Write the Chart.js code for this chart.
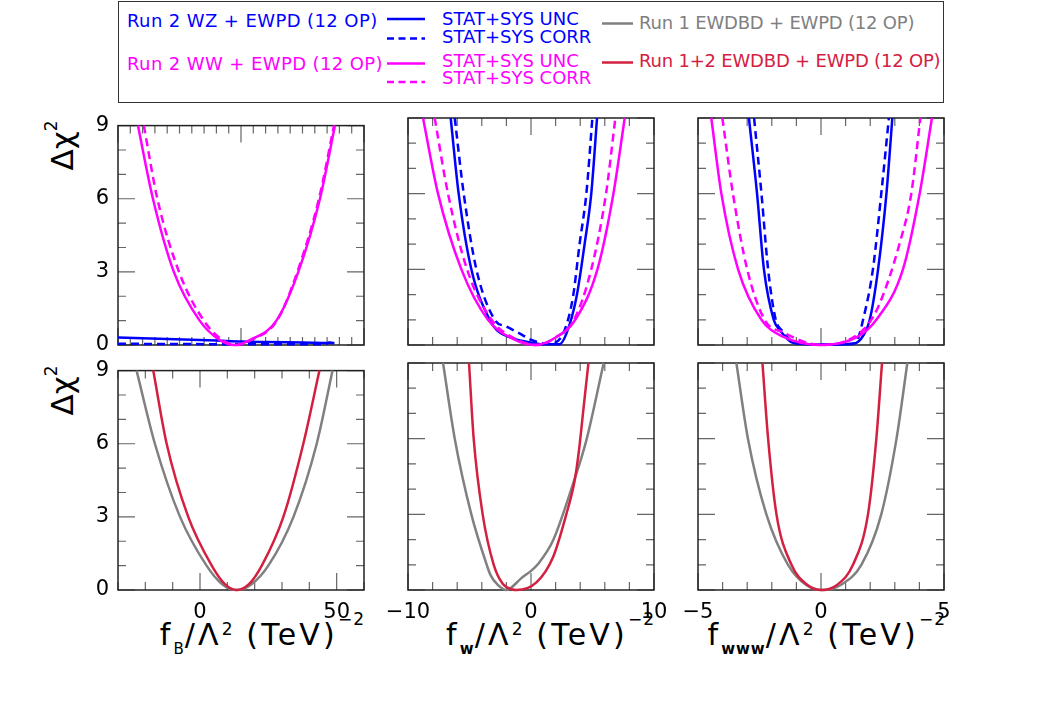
<!DOCTYPE html>
<html>
<head>
<meta charset="utf-8">
<script src="https://cdn.jsdelivr.net/npm/chart.js@4.4.1/dist/chart.umd.min.js"></script>
<style>
body { margin: 0; background: #fff; }
#page { position: relative; width: 1063px; height: 709px; overflow: hidden; font-family: "DejaVu Sans", sans-serif; }
.panel { position: absolute; }
.legbox { position: absolute; left: 118px; top: 1px; width: 824px; height: 100px; border: 1.5px solid #333; }
.leg { position: absolute; font-size: 18px; line-height: 18px; white-space: nowrap; }
.xt { position: absolute; font-size: 30px; line-height: 30px; letter-spacing: 3.2px; white-space: nowrap; color: #000; }
.yt { position: absolute; font-size: 31px; line-height: 31px; white-space: nowrap; transform: translate(-50%, -50%) rotate(-90deg); }
.up, .dn { position: relative; font-size: 17px; letter-spacing: 1px; }
</style>
</head>
<body>
<div id="page">
  <div class="legbox"></div>
  <svg style="position:absolute;left:0;top:0" width="1063" height="110">
    <line x1="387" y1="19" x2="425" y2="19" stroke="#0000ff" stroke-width="2.5"/>
    <line x1="387" y1="38.5" x2="425" y2="38.5" stroke="#0000ff" stroke-width="2.5" stroke-dasharray="7 4.5"/>
    <line x1="387" y1="63.5" x2="425" y2="63.5" stroke="#ff00ff" stroke-width="2.5"/>
    <line x1="387" y1="82" x2="425" y2="82" stroke="#ff00ff" stroke-width="2.5" stroke-dasharray="7 4.5"/>
    <line x1="602" y1="23.5" x2="633" y2="23.5" stroke="#808080" stroke-width="2.5"/>
    <line x1="602" y1="62.5" x2="633" y2="62.5" stroke="#d42040" stroke-width="2.5"/>
  </svg>
  <div class="leg" style="left:127px;top:12px;color:#0000ff;letter-spacing:0.4px">Run 2 WZ + EWPD (12 OP)</div>
  <div class="leg" style="left:442px;top:10px;color:#0000ff">STAT+SYS UNC</div>
  <div class="leg" style="left:442px;top:28px;color:#0000ff">STAT+SYS CORR</div>
  <div class="leg" style="left:127px;top:55px;color:#ff00ff;letter-spacing:0.4px">Run 2 WW + EWPD (12 OP)</div>
  <div class="leg" style="left:442px;top:52px;color:#ff00ff">STAT+SYS UNC</div>
  <div class="leg" style="left:442px;top:69px;color:#ff00ff">STAT+SYS CORR</div>
  <div class="leg" style="left:639px;top:14px;color:#808080;letter-spacing:-0.2px">Run 1 EWDBD + EWPD (12 OP)</div>
  <div class="leg" style="left:639px;top:52px;color:#d42040;letter-spacing:-0.2px">Run 1+2 EWDBD + EWPD (12 OP)</div>

  <div class="yt" style="left:65px;top:145px">&Delta;&chi;<span class="up" style="top:-16px">2</span></div>
  <div class="yt" style="left:65px;top:390px">&Delta;&chi;<span class="up" style="top:-16px">2</span></div>

  <div class="xt" style="right:698px;top:620px">f<span class="dn" style="top:9px;font-size:15px">B</span>/&Lambda;<span class="up" style="top:-10px">2</span> (TeV)<span class="up" style="top:-20px">&minus;2</span></div>
  <div class="xt" style="right:408px;top:620px">f<span class="dn" style="top:9px;font-size:15px;font-weight:bold">w</span>/&Lambda;<span class="up" style="top:-10px">2</span> (TeV)<span class="up" style="top:-20px">&minus;2</span></div>
  <div class="xt" style="right:117px;top:620px">f<span class="dn" style="top:9px;font-size:15px;font-weight:bold">www</span>/&Lambda;<span class="up" style="top:-10px">2</span> (TeV)<span class="up" style="top:-20px">&minus;2</span></div>
</div>
<script>
// tick labels
const yLabels = [0, 3, 6, 9];
const fbTopLabels = [];
const fbLabels = [0, 50];
const fwLabels = [-10, 0, 10];
const fwwwLabels = [-5, 0, 5];

// Run 2 curves, [f/Lambda^2, delta chi2]
const fbWwUnc = [[-41.9, 9], [-35.8, 6], [-27.3, 3], [-16.8, 1], [-8.6, 0.2], [-2.5, 0], [3.6, 0.2], [14.4, 1], [23.3, 3], [32.1, 6], [38.2, 9]];
const fbWwCorr = [[-39.5, 9], [-34.0, 6], [-25.2, 3], [-15.1, 1], [-7.5, 0.2], [-1.8, 0], [4.0, 0.2], [14.6, 1], [22.9, 3], [31.7, 6], [37.8, 9]];
const fbWzUnc = [[-50, 0.31], [-30, 0.25], [-10, 0.18], [0, 0.14], [10, 0.12], [25, 0.1], [38, 0.08]];
const fbWzCorr = [[-50, 0.05], [-25, 0.04], [0, 0.03], [25, 0.03], [34, 0.04], [36, 0.1], [38, 0.06]];

const fwWwUnc = [[-8.78, 9], [-7.56, 6], [-5.66, 3], [-3.5, 1], [-1.5, 0.25], [0.3, 0], [2.0, 0.3], [3.6, 1], [5.4, 3], [6.7, 6], [7.62, 9]];
const fwWwCorr = [[-7.83, 9], [-6.75, 6], [-5.2, 3], [-3.2, 1], [-1.3, 0.25], [0.5, 0], [2.0, 0.3], [3.5, 1], [4.9, 3], [6.1, 6], [6.86, 9]];
const fwWzUnc = [[-6.53, 9], [-5.88, 6], [-4.85, 3], [-3.36, 1], [-2.8, 0.6], [-1.46, 0.26], [0.03, 0.09], [1.0, 0.03], [2.3, 0.03], [2.88, 0.45], [3.7, 1.9], [4.37, 4.04], [4.9, 6], [5.37, 9]];
const fwWzCorr = [[-6.2, 9], [-5.47, 6], [-4.44, 3], [-2.95, 1], [-2.0, 0.73], [-0.9, 0.45], [0.03, 0.2], [1.3, 0.05], [1.9, 0.08], [2.74, 0.6], [3.41, 1.9], [3.96, 4.04], [4.5, 6], [4.99, 9]];

const fwwwWwUnc = [[-4.46, 9], [-4.05, 6], [-3.37, 3], [-2.42, 1], [-1.54, 0.33], [0.0, 0], [1.44, 0.3], [2.25, 1], [3.33, 3], [4.01, 6], [4.51, 9]];
const fwwwWwCorr = [[-4.01, 9], [-3.58, 6], [-3.0, 3], [-2.29, 1], [-1.54, 0.5], [0.0, 0], [1.71, 0.6], [2.32, 1.5], [3.2, 4.04], [3.67, 6], [4.04, 9]];
const fwwwWzUnc = [[-2.93, 9], [-2.6, 6], [-2.32, 3], [-1.92, 1], [-1.68, 0.6], [-1.14, 0.09], [0.0, 0.02], [1.17, 0.03], [1.64, 0.26], [1.98, 1], [2.32, 3], [2.66, 6], [2.9, 9]];
const fwwwWzCorr = [[-2.72, 9], [-2.42, 6], [-2.15, 3], [-1.84, 1], [-1.61, 0.6], [-1.0, 0.07], [0.0, 0.02], [1.2, 0.05], [1.44, 0.13], [1.71, 1], [2.11, 3], [2.45, 6], [2.76, 9]];

// Run 1 and Run 1+2 curves
const fbRun1 = [[-23.2, 9], [-16.5, 6], [-7.3, 3], [2.4, 1], [8.0, 0.25], [13.4, 0], [19.0, 0.25], [25.0, 1], [34.2, 3], [42.7, 6], [48.5, 9]];
const fbRun12 = [[-17.1, 9], [-12.2, 6], [-4.3, 3], [4.3, 1], [9.0, 0.25], [13.4, 0], [18.0, 0.25], [22.6, 1], [30.5, 3], [37.8, 6], [43.7, 9]];
const fwRun1 = [[-7.15, 9], [-6.2, 6], [-4.85, 3], [-3.6, 1], [-3.3, 0.6], [-2.7, 0.2], [-2.0, 0], [-1.6, 0.1], [-0.78, 0.47], [0.03, 0.77], [0.57, 1.03], [1.79, 1.96], [3.41, 4.2], [4.5, 5.93], [5.91, 9]];
const fwRun12 = [[-5.04, 9], [-4.66, 6], [-3.93, 3], [-3.03, 1], [-2.3, 0.25], [-1.5, 0.02], [-1.19, 0], [0.44, 0.3], [1.79, 1.3], [2.87, 3.0], [3.55, 4.34], [3.9, 5.53], [4.28, 7.25], [4.67, 9]];
const fwwwRun1 = [[-3.44, 9], [-2.97, 6], [-2.22, 3], [-1.34, 1], [-0.6, 0.2], [0.08, 0], [0.8, 0.2], [1.64, 1], [2.45, 3], [3.07, 6], [3.51, 9]];
const fwwwRun12 = [[-2.38, 9], [-2.15, 6], [-1.81, 3], [-1.2, 1], [-0.55, 0.2], [0.02, 0], [0.65, 0.2], [1.3, 1], [1.91, 3], [2.25, 6], [2.48, 9]];

const BLUE = '#0000ff', MAG = '#ff00ff', GRAY = '#808080', RED = '#d42040';
const FONT = '"DejaVu Sans", sans-serif';
const colLeft = [118, 408, 698];
const rowTop = [118, 363];
const PW = 246, PH = 227;

// frame + inside ticks on all four sides
const panelFrame = {
  id: 'panelFrame',
  beforeDatasetsDraw(chart, args, opts) {
    const {ctx, chartArea: a, scales} = chart;
    const isMajor = (v, m) => Math.abs(v / m - Math.round(v / m)) < 1e-6;
    ctx.save();
    ctx.strokeStyle = '#666';
    ctx.lineWidth = 1.2;
    ctx.beginPath();
    scales.x.ticks.forEach(t => {
      const px = scales.x.getPixelForValue(t.value);
      const len = isMajor(t.value, opts.xMajor) ? 17 : 8;
      ctx.moveTo(px, a.bottom); ctx.lineTo(px, a.bottom - len);
      ctx.moveTo(px, a.top); ctx.lineTo(px, a.top + len);
    });
    scales.y.ticks.forEach(t => {
      const py = scales.y.getPixelForValue(t.value);
      const len = isMajor(t.value, opts.yMajor) ? 17 : 8;
      ctx.moveTo(a.left, py); ctx.lineTo(a.left + len, py);
      ctx.moveTo(a.right, py); ctx.lineTo(a.right - len, py);
    });
    ctx.stroke();
    ctx.strokeStyle = '#222';
    ctx.lineWidth = 1.5;
    ctx.strokeRect(a.left, a.top, a.right - a.left, a.bottom - a.top);
    ctx.restore();
  }
};

const fmt = v => String(v).replace('-', '\u2212');

function curve(points, color, dashed) {
  return {
    data: points.map(p => ({x: p[0], y: p[1]})),
    showLine: true,
    borderColor: color,
    borderWidth: 2.5,
    borderDash: dashed ? [8, 5] : [],
    pointRadius: 0,
    cubicInterpolationMode: 'monotone',
    clip: 4
  };
}

const panels = [
  {col: 0, row: 0, min: -50, max: 50, step: 5, major: 50, labels: fbTopLabels,
   sets: [curve(fbWwUnc, MAG), curve(fbWwCorr, MAG, true), curve(fbWzUnc, BLUE), curve(fbWzCorr, BLUE, true)]},
  {col: 1, row: 0, min: -10, max: 10, step: 2, major: 10, labels: [],
   sets: [curve(fwWwUnc, MAG), curve(fwWwCorr, MAG, true), curve(fwWzUnc, BLUE), curve(fwWzCorr, BLUE, true)]},
  {col: 2, row: 0, min: -5, max: 5, step: 1, major: 5, labels: [],
   sets: [curve(fwwwWwUnc, MAG), curve(fwwwWwCorr, MAG, true), curve(fwwwWzUnc, BLUE), curve(fwwwWzCorr, BLUE, true)]},
  {col: 0, row: 1, min: -30, max: 60, step: 10, major: 50, labels: fbLabels,
   sets: [curve(fbRun12, RED), curve(fbRun1, GRAY)]},
  {col: 1, row: 1, min: -10, max: 10, step: 2, major: 10, labels: fwLabels,
   sets: [curve(fwRun12, RED), curve(fwRun1, GRAY)]},
  {col: 2, row: 1, min: -5, max: 5, step: 1, major: 5, labels: fwwwLabels,
   sets: [curve(fwwwRun12, RED), curve(fwwwRun1, GRAY)]}
];

const page = document.getElementById('page');

panels.forEach(p => {
  const canvas = document.createElement('canvas');
  canvas.className = 'panel';
  canvas.width = 50 + PW + 25;
  canvas.height = 14 + PH + 40;
  canvas.style.left = (colLeft[p.col] - 50) + 'px';
  canvas.style.top = (rowTop[p.row] - 14) + 'px';
  page.appendChild(canvas);

  new Chart(canvas, {
    type: 'scatter',
    data: {datasets: p.sets},
    options: {
      responsive: false,
      animation: false,
      events: [],
      layout: {padding: {top: 14, right: 25, left: 0, bottom: 0}},
      plugins: {
        legend: {display: false},
        tooltip: {enabled: false},
        panelFrame: {xMajor: p.major, yMajor: 3}
      },
      scales: {
        x: {
          type: 'linear', min: p.min, max: p.max,
          afterFit: s => { s.height = 40; },
          grid: {display: false, drawTicks: false},
          border: {display: false},
          ticks: {
            display: p.row === 1, stepSize: p.step, maxTicksLimit: 100,
            autoSkip: false, maxRotation: 0, padding: 10,
            color: '#000', font: {family: FONT, size: 21},
            callback: v => p.labels.includes(v) ? fmt(v) : ''
          }
        },
        y: {
          type: 'linear', min: 0, max: 9,
          afterFit: s => { s.width = 50; },
          grid: {display: false, drawTicks: false},
          border: {display: false},
          ticks: {
            display: p.col === 0, stepSize: 1, maxTicksLimit: 100,
            autoSkip: false, padding: 9,
            color: '#000', font: {family: FONT, size: 21},
            callback: v => yLabels.includes(v) ? String(v) : ''
          }
        }
      }
    },
    plugins: [panelFrame]
  });
});
</script>
</body>
</html>
